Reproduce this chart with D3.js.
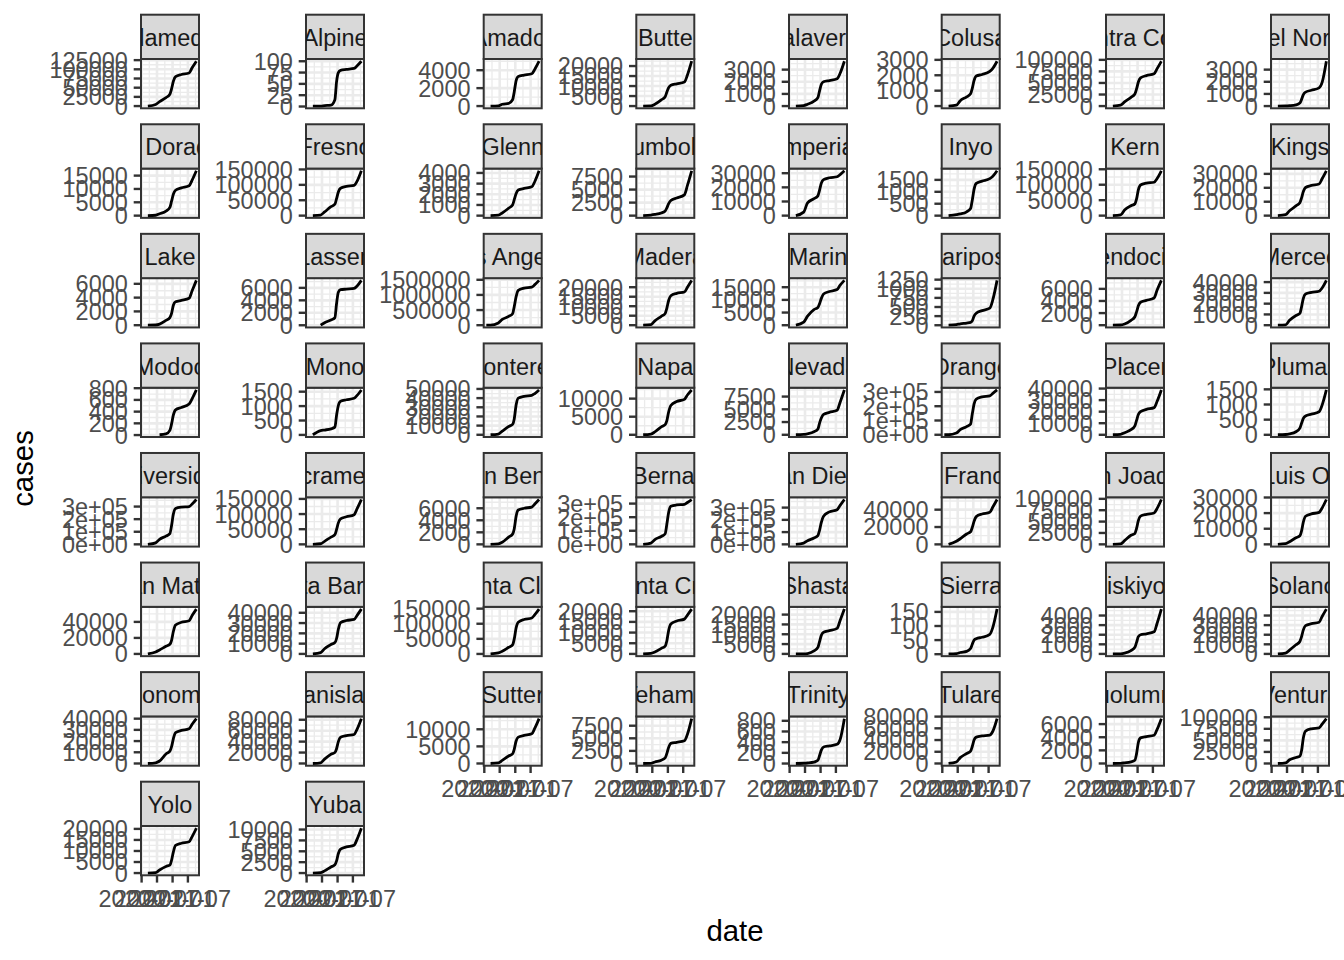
<!DOCTYPE html>
<html>
<head>
<meta charset="utf-8">
<script src="https://cdn.jsdelivr.net/npm/d3@7"></script>
<style>
  body { margin: 0; background: #ffffff; }
  svg { display: block; }
  text { font-family: "Liberation Sans", Arial, Helvetica, sans-serif; }
</style>
</head>
<body>
<svg id="chart" width="1344" height="960"></svg>
<script>
// ---------------- DATA ----------------
const counties = ["Alameda","Alpine","Amador","Butte","Calaveras","Colusa","Contra Costa","Del Norte",
  "El Dorado","Fresno","Glenn","Humboldt","Imperial","Inyo","Kern","Kings",
  "Lake","Lassen","Los Angeles","Madera","Marin","Mariposa","Mendocino","Merced",
  "Modoc","Mono","Monterey","Napa","Nevada","Orange","Placer","Plumas",
  "Riverside","Sacramento","San Benito","San Bernardino","San Diego","San Francisco","San Joaquin","San Luis Obispo",
  "San Mateo","Santa Barbara","Santa Clara","Santa Cruz","Shasta","Sierra","Siskiyou","Solano",
  "Sonoma","Stanislaus","Sutter","Tehama","Trinity","Tulare","Tuolumne","Ventura",
  "Yolo","Yuba"];

const dates = ["2020-01-25","2020-03-15","2020-06-15","2020-07-31","2020-10-15","2020-11-30","2020-12-20",
  "2021-01-10","2021-02-05","2021-04-15","2021-07-15","2021-08-20","2021-10-09"];

// cumulative cases per county at the dates above (null = no case reported yet)
const cases = [
  [null, 30, 4500, 12000, 23000, 32000, 47000, 67000, 80000, 86000, 90000, 104000, 122000],
  [null, 1, 1, 2, 3, 15, 55, 75, 80, 82, 84, 90, 100],
  [null, 1, 30, 200, 300, 700, 1600, 2800, 3300, 3450, 3600, 4100, 5000],
  [null, 2, 100, 900, 3100, 4700, 7000, 9200, 10400, 11100, 12000, 15500, 22400],
  [null, 1, 40, 150, 400, 700, 1250, 1800, 2000, 2100, 2250, 2700, 3690],
  [null, 1, 60, 350, 600, 800, 1150, 1650, 1950, 2050, 2250, 2450, 2910],
  [null, 30, 2000, 9000, 19000, 26000, 37000, 52000, 61000, 66000, 70000, 81000, 97000],
  [null, 1, 10, 30, 100, 250, 550, 950, 1150, 1300, 1500, 1950, 3690],
  [null, 3, 150, 700, 1700, 3100, 5400, 8000, 9500, 10400, 11200, 13300, 16800],
  [null, 5, 2000, 12000, 29000, 37000, 55000, 77000, 89000, 95000, 98000, 112000, 145600],
  [null, 1, 40, 250, 700, 1000, 1500, 2050, 2400, 2550, 2700, 3200, 4200],
  [null, 2, 100, 220, 500, 900, 1500, 2300, 2900, 3400, 4000, 5800, 8600],
  [null, 1, 2500, 9000, 12000, 14000, 18000, 23000, 25500, 26800, 27500, 29000, 31700],
  [null, 1, 40, 70, 160, 300, 650, 1100, 1350, 1450, 1550, 1650, 1880],
  [null, 5, 2500, 18000, 32000, 38000, 54000, 83000, 99000, 105000, 108000, 120000, 145000],
  [null, 1, 700, 3500, 7000, 9300, 12800, 17300, 20200, 21700, 22700, 26500, 32200],
  [null, 1, 30, 150, 700, 1100, 1700, 2900, 3400, 3600, 3900, 5000, 6500],
  [null, null, 10, 400, 850, 1200, 3500, 5300, 5700, 5800, 5900, 6300, 7200],
  [1, 70, 75000, 190000, 290000, 380000, 620000, 930000, 1150000, 1225000, 1260000, 1340000, 1480000],
  [null, 1, 300, 2300, 4700, 6200, 9000, 13000, 15500, 16800, 17500, 20000, 23600],
  [null, 10, 1200, 3600, 6200, 7000, 8500, 10600, 12300, 13300, 14100, 15800, 17700],
  [null, 1, 15, 40, 60, 80, 120, 250, 330, 400, 470, 700, 1230],
  [null, 1, 30, 200, 800, 1400, 2200, 3200, 3800, 4100, 4500, 5800, 7400],
  [null, 2, 400, 4500, 9000, 11000, 17000, 25000, 29000, 30500, 31500, 34500, 41600],
  [null, null, null, 5, 20, 80, 190, 340, 430, 470, 530, 620, 770],
  [null, 5, 150, 170, 210, 270, 680, 1020, 1170, 1220, 1270, 1370, 1560],
  [null, 5, 800, 4000, 9000, 11300, 17500, 32000, 40000, 42000, 43000, 45000, 48900],
  [null, 2, 200, 800, 2200, 2800, 3900, 6300, 8100, 9200, 9800, 11000, 12400],
  [null, 2, 60, 200, 600, 1100, 2300, 3300, 4000, 4400, 4800, 6400, 8800],
  [1, 20, 12000, 36000, 57000, 75000, 145000, 215000, 250000, 265000, 272000, 290000, 314000],
  [null, 10, 400, 1800, 4400, 7800, 12500, 17500, 20000, 22000, 23500, 29000, 38800],
  [null, 1, 10, 30, 100, 220, 380, 540, 620, 680, 760, 980, 1480],
  [null, 10, 12000, 40000, 65000, 85000, 150000, 240000, 285000, 296000, 300000, 320000, 356000],
  [null, 40, 2000, 10000, 24000, 32000, 49000, 71000, 84000, 91000, 98000, 118000, 148000],
  [null, 2, 80, 350, 1200, 1700, 2600, 4600, 5700, 6000, 6200, 6700, 7450],
  [null, 5, 9000, 35000, 58000, 78000, 150000, 235000, 280000, 290000, 294000, 308000, 330000],
  [null, 60, 10000, 30000, 52000, 72000, 115000, 180000, 230000, 265000, 283000, 318000, 366000],
  [null, 40, 3500, 6500, 12000, 14500, 19500, 26500, 32000, 35000, 37000, 43000, 51700],
  [null, 10, 1200, 8000, 20000, 24000, 35000, 52000, 62000, 66000, 69000, 79000, 98500],
  [null, 5, 400, 1700, 4200, 5500, 8600, 14300, 18000, 19500, 20500, 23300, 28700],
  [null, 30, 2500, 5000, 9500, 12000, 17000, 28000, 36000, 39500, 41500, 48000, 56000],
  [null, 3, 1200, 5000, 9200, 11000, 15000, 24000, 30500, 32500, 33500, 37500, 43600],
  [null, 110, 3200, 9000, 22000, 30000, 50000, 85000, 105000, 114000, 119000, 130000, 148500],
  [null, 5, 250, 900, 2600, 3700, 6200, 11000, 14000, 15400, 16300, 18200, 21000],
  [null, 1, 50, 200, 1500, 3300, 6200, 9500, 11000, 11800, 13000, 17000, 22800],
  [null, 1, 2, 6, 10, 20, 35, 50, 55, 60, 70, 95, 160],
  [null, 1, 15, 80, 350, 700, 1200, 1800, 2000, 2100, 2300, 3200, 4670],
  [null, 5, 900, 4000, 9500, 13000, 18000, 25000, 29500, 31500, 33000, 39000, 46700],
  [null, 5, 600, 2200, 8500, 11000, 15000, 22000, 27500, 29500, 31000, 35000, 40000],
  [null, 5, 1300, 8000, 17000, 20000, 27000, 40000, 48000, 51000, 53000, 63000, 82000],
  [null, 2, 150, 900, 2200, 2800, 4200, 6500, 7700, 8200, 8700, 10300, 13100],
  [null, 1, 30, 300, 650, 1100, 2000, 3200, 4000, 4200, 4500, 5800, 8900],
  [null, 1, 5, 10, 25, 60, 150, 250, 310, 330, 360, 450, 840],
  [null, 2, 2500, 10000, 17000, 21000, 29000, 40000, 45000, 47000, 48500, 55000, 76500],
  [null, 1, 25, 100, 250, 500, 1500, 3200, 3900, 4100, 4300, 5200, 6830],
  [null, 10, 1500, 8000, 13000, 16000, 28000, 55000, 70000, 75000, 77000, 85000, 97000],
  [null, 3, 200, 1400, 3000, 3600, 5800, 9500, 12500, 13500, 14200, 16500, 20300],
  [null, 1, 80, 500, 1400, 1900, 2800, 4500, 5500, 6000, 6400, 7800, 10300]
];

// y tick labels per county (free y scales)
const yTickLabels = [
  ["0","25000","50000","75000","100000","125000"],
  ["0","25","50","75","100"],
  ["0","2000","4000"],
  ["0","5000","10000","15000","20000"],
  ["0","1000","2000","3000"],
  ["0","1000","2000","3000"],
  ["0","25000","50000","75000","100000"],
  ["0","1000","2000","3000"],
  ["0","5000","10000","15000"],
  ["0","50000","100000","150000"],
  ["0","1000","2000","3000","4000"],
  ["0","2500","5000","7500"],
  ["0","10000","20000","30000"],
  ["0","500","1000","1500"],
  ["0","50000","100000","150000"],
  ["0","10000","20000","30000"],
  ["0","2000","4000","6000"],
  ["0","2000","4000","6000"],
  ["0","500000","1000000","1500000"],
  ["0","5000","10000","15000","20000"],
  ["0","5000","10000","15000"],
  ["0","250","500","750","1000","1250"],
  ["0","2000","4000","6000"],
  ["0","10000","20000","30000","40000"],
  ["0","200","400","600","800"],
  ["0","500","1000","1500"],
  ["0","10000","20000","30000","40000","50000"],
  ["0","5000","10000"],
  ["0","2500","5000","7500"],
  ["0e+00","1e+05","2e+05","3e+05"],
  ["0","10000","20000","30000","40000"],
  ["0","500","1000","1500"],
  ["0e+00","1e+05","2e+05","3e+05"],
  ["0","50000","100000","150000"],
  ["0","2000","4000","6000"],
  ["0e+00","1e+05","2e+05","3e+05"],
  ["0e+00","1e+05","2e+05","3e+05"],
  ["0","20000","40000"],
  ["0","25000","50000","75000","100000"],
  ["0","10000","20000","30000"],
  ["0","20000","40000"],
  ["0","10000","20000","30000","40000"],
  ["0","50000","100000","150000"],
  ["0","5000","10000","15000","20000"],
  ["0","5000","10000","15000","20000"],
  ["0","50","100","150"],
  ["0","1000","2000","3000","4000"],
  ["0","10000","20000","30000","40000"],
  ["0","10000","20000","30000","40000"],
  ["0","20000","40000","60000","80000"],
  ["0","5000","10000"],
  ["0","2500","5000","7500"],
  ["0","200","400","600","800"],
  ["0","20000","40000","60000","80000"],
  ["0","2000","4000","6000"],
  ["0","25000","50000","75000","100000"],
  ["0","5000","10000","15000","20000"],
  ["0","2500","5000","7500","10000"]
];

const xTickDates = ["2020-01-01","2020-07-01","2021-01-01","2021-07-01"];
const xTickLabels = ["2020-01","2020-07","2021-01","2021-07"];

// ---------------- LAYOUT ----------------
const W = 1344, H = 960;
const colX = [141, 306, 483.7, 636.3, 789, 941.7, 1106, 1271];
const PW = 58, SH = 44.3, PH = 49.3, ROW0 = 14.7, ROWSTEP = 109.57;
const NCOL = 8;
const TICK = 7.3, TEXT_FS = 23.47, TITLE_FS = 29.33;
const GRID = "#EBEBEB", DARK = "#333333";

const svg = d3.select("#chart");
svg.append("rect").attr("width", W).attr("height", H).attr("fill", "#ffffff");
const defs = svg.append("defs");

const parse = d3.utcParse("%Y-%m-%d");
const dateObjs = dates.map(parse);
const xMajor = xTickDates.map(parse);
const [t0, t1] = d3.extent(dateObjs);
const span = t1 - t0;
const xBase = d3.scaleUtc().domain([new Date(+t0 - 0.05 * span), new Date(+t1 + 0.05 * span)]);
const xDom = xBase.domain().map(Number);

// minor x breaks: midpoints between majors (+ half-step beyond ends), inside limits
const xMinor = [];
for (let k = -1; k < xMajor.length; k++) {
  let a, b;
  if (k < 0) { a = +xMajor[0] - (+xMajor[1] - +xMajor[0]); b = +xMajor[0]; }
  else if (k === xMajor.length - 1) { a = +xMajor[k]; b = +xMajor[k] + (+xMajor[k] - +xMajor[k - 1]); }
  else { a = +xMajor[k]; b = +xMajor[k + 1]; }
  const m = (a + b) / 2;
  if (m >= xDom[0] && m <= xDom[1]) xMinor.push(new Date(m));
}

counties.forEach((name, i) => {
  const col = i % NCOL, row = Math.floor(i / NCOL);
  const px = colX[col];
  const sy = ROW0 + row * ROWSTEP;
  const py = sy + SH;
  const x = xBase.copy().range([px, px + PW]);
  const vals = cases[i];
  const ext = d3.extent(vals.filter(v => v != null));
  const r = ext[1] - ext[0];
  const y = d3.scaleLinear().domain([ext[0] - 0.05 * r, ext[1] + 0.05 * r]).range([py + PH, py]);
  const yDom = y.domain();
  const tv = yTickLabels[i].map(Number);
  const step = tv[1] - tv[0];
  const yMinor = [];
  for (let k = -1; k < tv.length; k++) {
    const m = tv[0] + (k + 0.5) * step;
    if (m >= yDom[0] && m <= yDom[1]) yMinor.push(m);
  }

  defs.append("clipPath").attr("id", "pc" + i)
    .append("rect").attr("x", px).attr("y", py).attr("width", PW).attr("height", PH);
  defs.append("clipPath").attr("id", "sc" + i)
    .append("rect").attr("x", px).attr("y", sy).attr("width", PW).attr("height", SH);

  const g = svg.append("g");
  g.append("rect").attr("x", px).attr("y", py).attr("width", PW).attr("height", PH).attr("fill", "#ffffff");

  const gg = g.append("g").attr("clip-path", `url(#pc${i})`);
  // minor grid
  gg.selectAll(null).data(yMinor).join("line")
    .attr("x1", px).attr("x2", px + PW).attr("y1", d => y(d)).attr("y2", d => y(d))
    .attr("stroke", GRID).attr("stroke-width", 1.3);
  gg.selectAll(null).data(xMinor).join("line")
    .attr("y1", py).attr("y2", py + PH).attr("x1", d => x(d)).attr("x2", d => x(d))
    .attr("stroke", GRID).attr("stroke-width", 1.3);
  // major grid
  gg.selectAll(null).data(tv).join("line")
    .attr("x1", px).attr("x2", px + PW).attr("y1", d => y(d)).attr("y2", d => y(d))
    .attr("stroke", GRID).attr("stroke-width", 2.6);
  gg.selectAll(null).data(xMajor).join("line")
    .attr("y1", py).attr("y2", py + PH).attr("x1", d => x(d)).attr("x2", d => x(d))
    .attr("stroke", GRID).attr("stroke-width", 2.6);

  // data line
  const pts = dateObjs.map((t, k) => ({ t, v: vals[k] }));
  const line = d3.line().defined(d => d.v != null).x(d => x(d.t)).y(d => y(d.v)).curve(d3.curveMonotoneX);
  gg.append("path").attr("d", line(pts)).attr("fill", "none")
    .attr("stroke", "#000000").attr("stroke-width", 2.8)
    .attr("stroke-linejoin", "round").attr("stroke-linecap", "butt");

  // panel border
  g.append("rect").attr("x", px).attr("y", py).attr("width", PW).attr("height", PH)
    .attr("fill", "none").attr("stroke", DARK).attr("stroke-width", 2);

  // strip
  g.append("rect").attr("x", px).attr("y", sy).attr("width", PW).attr("height", SH)
    .attr("fill", "#D9D9D9").attr("stroke", DARK).attr("stroke-width", 2);
  g.append("g").attr("clip-path", `url(#sc${i})`)
    .append("text").attr("x", px + PW / 2).attr("y", sy + 31.2)
    .attr("text-anchor", "middle").attr("font-size", TEXT_FS).attr("fill", "#1A1A1A")
    .text(name);

  // y axis
  g.selectAll(null).data(tv).join("line")
    .attr("x1", px - TICK).attr("x2", px).attr("y1", d => y(d)).attr("y2", d => y(d))
    .attr("stroke", DARK).attr("stroke-width", 2.4);
  g.selectAll(null).data(yTickLabels[i]).join("text")
    .attr("x", px - 13.2).attr("y", (d, k) => y(tv[k])).attr("dy", "0.36em")
    .attr("text-anchor", "end").attr("font-size", TEXT_FS).attr("fill", "#4D4D4D")
    .text(d => d);

  // x axis on bottom-most panel of each column
  if (i + NCOL >= counties.length) {
    g.selectAll(null).data(xMajor).join("line")
      .attr("x1", d => x(d)).attr("x2", d => x(d)).attr("y1", py + PH).attr("y2", py + PH + TICK)
      .attr("stroke", DARK).attr("stroke-width", 2.4);
    g.selectAll(null).data(xTickLabels).join("text")
      .attr("x", (d, k) => x(xMajor[k])).attr("y", py + PH + 31.7)
      .attr("text-anchor", "middle").attr("font-size", TEXT_FS).attr("fill", "#4D4D4D")
      .text(d => d);
  }
});

// axis titles
svg.append("text").attr("x", (colX[0] + colX[NCOL - 1] + PW) / 2).attr("y", 941)
  .attr("text-anchor", "middle").attr("font-size", TITLE_FS).attr("fill", "#000000").text("date");
svg.append("text").attr("transform", "translate(33,468.5) rotate(-90)")
  .attr("text-anchor", "middle").attr("font-size", TITLE_FS).attr("fill", "#000000").text("cases");
</script>
</body>
</html>
